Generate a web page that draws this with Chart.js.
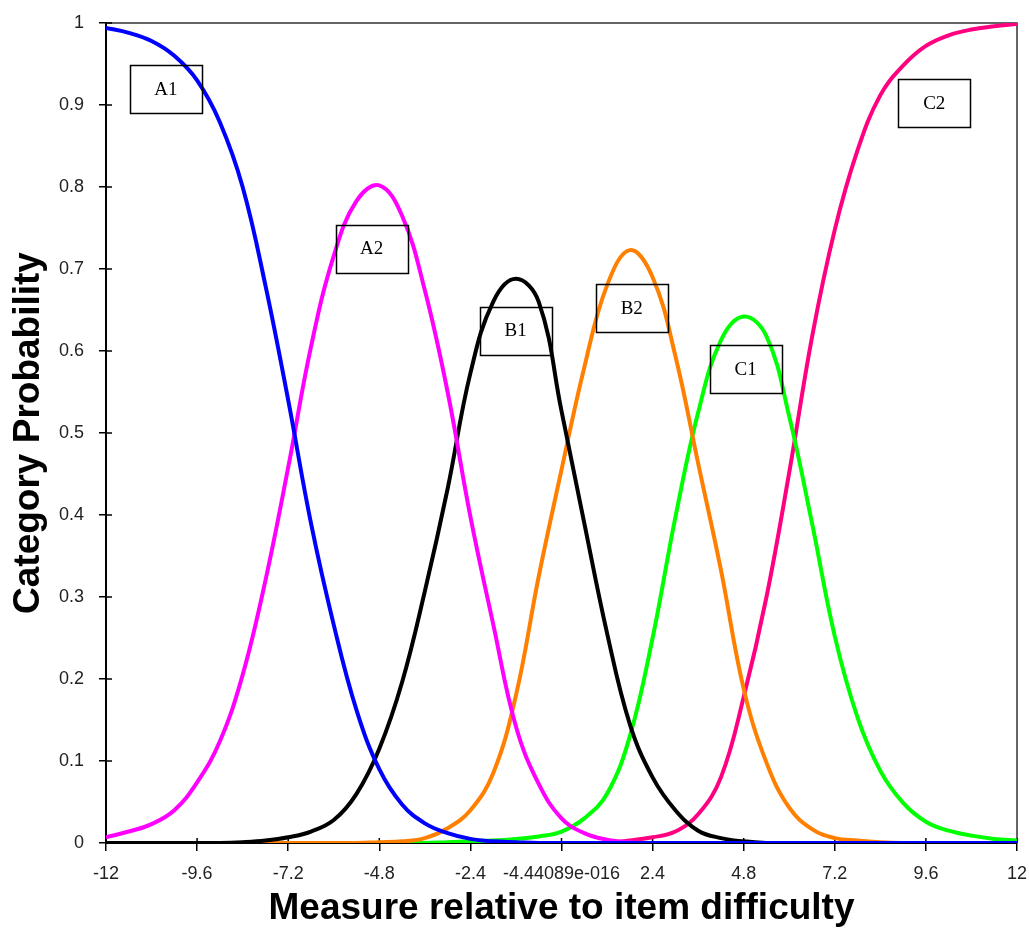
<!DOCTYPE html>
<html>
<head>
<meta charset="utf-8">
<title>Category Probability Curves</title>
<script src="https://cdn.jsdelivr.net/npm/chart.js@4.4.0/dist/chart.umd.min.js"></script>
<style>
    html, body { margin: 0; padding: 0; background: #fff; }
    #wrap { width: 1029px; height: 934px; }
</style>
</head>
<body>
<div id="wrap"><canvas id="probChart"></canvas></div>
<script>
// ── Data ──
const measures = [-12, -11.4, -10.8, -10.2, -9.6, -9.0, -8.4, -7.8, -7.2, -6.6, -6.0, -5.4, -4.8, -4.2, -3.6, -3.0, -2.4, -1.8, -1.2, -0.6,
    0, 0.6, 1.2, 1.8, 2.4, 3.0, 3.6, 4.2, 4.8, 5.4, 6.0, 6.6, 7.2, 7.8, 8.4, 9.0, 9.6, 10.2, 10.8, 11.4, 12];

const catA1 = [0.994, 0.988, 0.978, 0.96, 0.93, 0.879, 0.8, 0.68, 0.54, 0.39, 0.266, 0.162, 0.09, 0.047, 0.024, 0.012, 0.005, 0.002, 0.001, 0,
    0, 0, 0, 0, 0, 0, 0, 0, 0, 0, 0, 0, 0, 0, 0, 0, 0, 0, 0, 0, 0];
const catA2 = [0.007, 0.014, 0.023, 0.04, 0.074, 0.124, 0.205, 0.32, 0.458, 0.605, 0.716, 0.783, 0.802, 0.765, 0.674, 0.55, 0.398, 0.267, 0.142, 0.072,
    0.03, 0.012, 0.004, 0.001, 0, 0, 0, 0, 0, 0, 0, 0, 0, 0, 0, 0, 0, 0, 0, 0, 0];
const catB1 = [0, 0, 0, 0, 0, 0, 0.001, 0.003, 0.007, 0.014, 0.028, 0.06, 0.115, 0.196, 0.307, 0.432, 0.573, 0.66, 0.688, 0.66,
    0.527, 0.39, 0.256, 0.145, 0.08, 0.04, 0.015, 0.006, 0.002, 0, 0, 0, 0, 0, 0, 0, 0, 0, 0, 0, 0];
const catB2 = [0, 0, 0, 0, 0, 0, 0, 0, 0, 0, 0, 0, 0.001, 0.002, 0.006, 0.018, 0.04, 0.085, 0.18, 0.325,
    0.455, 0.58, 0.68, 0.723, 0.69, 0.594, 0.463, 0.333, 0.188, 0.098, 0.043, 0.017, 0.006, 0.003, 0.001, 0, 0, 0, 0, 0, 0];
const catC1 = [0, 0, 0, 0, 0, 0, 0, 0, 0, 0, 0, 0, 0, 0, 0, 0.001, 0.002, 0.003, 0.005, 0.008,
    0.014, 0.03, 0.06, 0.13, 0.25, 0.397, 0.525, 0.613, 0.642, 0.618, 0.52, 0.39, 0.252, 0.153, 0.088, 0.049, 0.026, 0.015, 0.009, 0.005, 0.003];
const catC2 = [0, 0, 0, 0, 0, 0, 0, 0, 0, 0, 0, 0, 0, 0, 0, 0, 0, 0, 0, 0,
    0, 0, 0, 0.003, 0.007, 0.014, 0.035, 0.08, 0.178, 0.3, 0.452, 0.617, 0.748, 0.845, 0.912, 0.948, 0.972, 0.985, 0.992, 0.996, 0.999];

const xTickValues = [-12, -9.6, -7.2, -4.8, -2.4, 0, 2.4, 4.8, 7.2, 9.6, 12];
const xTickLabels = ['-12', '-9.6', '-7.2', '-4.8', '-2.4', '-4.44089e-016', '2.4', '4.8', '7.2', '9.6', '12'];
const yTickValues = [0, 0.1, 0.2, 0.3, 0.4, 0.5, 0.6, 0.7, 0.8, 0.9, 1];
const yTickLabels = ['0', '0.1', '0.2', '0.3', '0.4', '0.5', '0.6', '0.7', '0.8', '0.9', '1'];

// category tags, anchored in data units
const tagNames = ['A1', 'A2', 'B1', 'B2', 'C1', 'C2'];
const tagX = [-10.42, -5.0, -1.21, 1.85, 4.85, 9.82];
const tagY = [0.919, 0.725, 0.625, 0.652, 0.578, 0.902];

const SANS = "'Liberation Sans', Arial, sans-serif";

function series(vals) {
    return measures.map((x, i) => ({ x: x, y: vals[i] }));
}

function curve(label, vals, color) {
    return {
        label: label,
        data: series(vals),
        borderColor: color,
        backgroundColor: color,
        borderWidth: 4,
        pointRadius: 0,
        fill: false,
        tension: 0.4
    };
}

// frame on top/right plus the small tick stubs inside the plot
const frameTicks = {
    id: 'frameTicks',
    beforeDatasetsDraw(chart) {
        const { ctx, chartArea: a, scales: { x, y } } = chart;
        ctx.save();
        ctx.strokeStyle = '#333';
        ctx.lineWidth = 1.5;
        ctx.beginPath();
        ctx.moveTo(a.left, a.top);
        ctx.lineTo(a.right, a.top);
        ctx.lineTo(a.right, a.bottom);
        ctx.stroke();

        ctx.strokeStyle = '#000';
        ctx.beginPath();
        xTickValues.forEach(v => {
            const px = x.getPixelForValue(v);
            ctx.moveTo(px, a.bottom);
            ctx.lineTo(px, a.bottom - 5);
        });
        yTickValues.forEach(v => {
            const py = y.getPixelForValue(v);
            ctx.moveTo(a.left, py);
            ctx.lineTo(a.left + 6, py);
        });
        ctx.stroke();
        ctx.restore();
    }
};

const tagBoxes = {
    id: 'tagBoxes',
    afterDatasetsDraw(chart) {
        const { ctx, scales: { x, y } } = chart;
        ctx.save();
        ctx.strokeStyle = '#000';
        ctx.lineWidth = 1.5;
        ctx.fillStyle = '#000';
        ctx.font = "19px 'Liberation Serif', 'Times New Roman', serif";
        ctx.textAlign = 'center';
        ctx.textBaseline = 'middle';
        tagNames.forEach((name, i) => {
            const cx = x.getPixelForValue(tagX[i]);
            const cy = y.getPixelForValue(tagY[i]);
            ctx.strokeRect(Math.round(cx - 36) + 0.5, Math.round(cy - 24) + 0.5, 72, 48);
            ctx.fillText(name, cx, cy + 1);
        });
        ctx.restore();
    }
};

new Chart(document.getElementById('probChart'), {
    type: 'line',
    data: {
        datasets: [
            curve('A1', catA1, '#0000ff'),
            curve('A2', catA2, '#ff00ff'),
            curve('B1', catB1, '#000000'),
            curve('B2', catB2, '#ff8000'),
            curve('C1', catC1, '#00ff00'),
            curve('C2', catC2, '#ff0080')
        ]
    },
    options: {
        responsive: true,
        maintainAspectRatio: false,
        animation: false,
        layout: { padding: { top: 23, right: 12, left: 0, bottom: 0 } },
        plugins: { legend: { display: false }, tooltip: { enabled: false } },
        scales: {
            x: {
                type: 'linear', min: -12, max: 12,
                afterBuildTicks: s => { s.ticks = xTickValues.map(v => ({ value: v })); },
                afterFit: s => { s.height = 91; s.paddingLeft = 0; s.paddingRight = 0; },
                ticks: {
                    autoSkip: false, maxRotation: 0, minRotation: 0, padding: 12,
                    color: '#222', font: { family: SANS, size: 18 },
                    callback: (v, i) => xTickLabels[i]
                },
                grid: { drawOnChartArea: false, drawTicks: true, tickLength: 8, color: '#000', lineWidth: 1.5 },
                border: { color: '#000', width: 2 },
                title: {
                    display: true, text: 'Measure relative to item difficulty', color: '#000',
                    font: { family: SANS, size: 37, weight: 'bold' },
                    padding: { top: 0, bottom: 3 }
                }
            },
            y: {
                type: 'linear', min: 0, max: 1,
                afterBuildTicks: s => { s.ticks = yTickValues.map(v => ({ value: v })); },
                afterFit: s => { s.width = 106; s.paddingTop = 0; s.paddingBottom = 0; },
                ticks: {
                    padding: 15, color: '#222', font: { family: SANS, size: 18 },
                    callback: (v, i) => yTickLabels[i]
                },
                grid: { drawOnChartArea: false, drawTicks: true, tickLength: 7, color: '#000', lineWidth: 1.5 },
                border: { color: '#000', width: 2 },
                title: {
                    display: true, text: 'Category Probability', color: '#000',
                    font: { family: SANS, size: 37, weight: 'bold' },
                    padding: { top: 7, bottom: 0 }
                }
            }
        }
    },
    plugins: [frameTicks, tagBoxes]
});
</script>
</body>
</html>
